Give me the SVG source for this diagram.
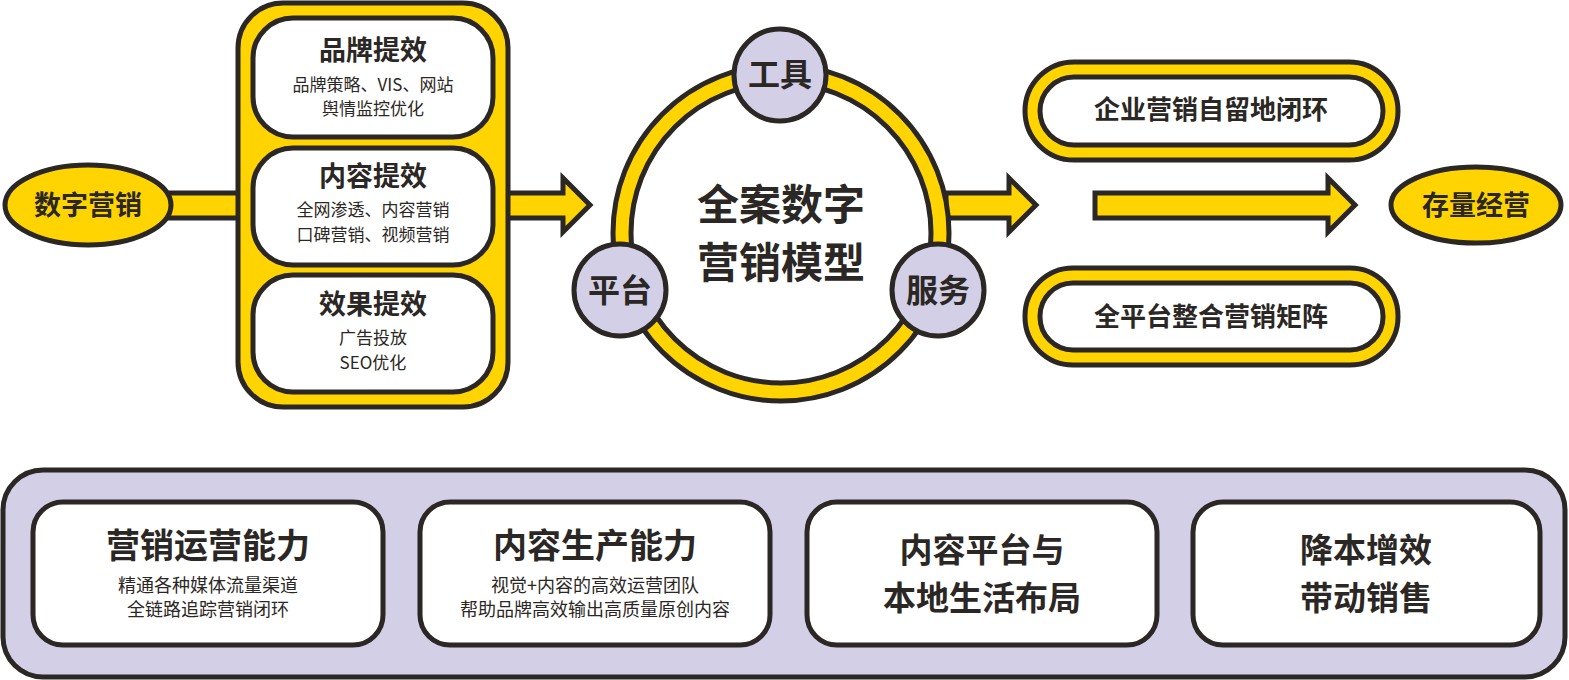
<svg xmlns="http://www.w3.org/2000/svg" width="1569" height="680" viewBox="0 0 1569 680">
<style>
.y{fill:#ffd400;stroke:#2b2724;stroke-width:5}
.w{fill:#fff;stroke:#2b2724;stroke-width:5}
.l{fill:#d3cfe7;stroke:#2b2724;stroke-width:5}
text{font-family:"Noto Sans CJK SC","Liberation Sans",sans-serif;fill:#2b2724;text-anchor:middle;font-weight:bold}
.t1{font-size:27px}
.t2{font-size:17px;font-weight:normal}
.t3{font-size:26px}
.tb{font-size:34px}
.tc{font-size:33px}
.ts{font-size:18px;font-weight:normal}
</style>
<g id="connectors">
<rect class="y" x="165" y="193" width="80" height="25"/>
<path class="y" d="M506,193 H563 V178 L590,205 L563,232 V218 H506 Z"/>
<path class="y" d="M946,193 H1009 V178 L1036,205 L1009,232 V218 H946 Z"/>
<path class="y" d="M1095,193 H1328 V178 L1355,205 L1328,232 V218 H1095 Z"/>
</g>
<g id="n-digital"><ellipse class="y" cx="88" cy="205" rx="83" ry="40"/><text class="t1" x="88" y="215">数字营销</text></g>
<g id="n-column">
<rect class="y" x="238" y="3" width="270" height="404" rx="45"/>
<g id="n-brand"><rect class="w" x="253" y="18" width="240" height="119" rx="40"/><text class="t1" x="373" y="60">品牌提效</text><text class="t2" x="373" y="91">品牌策略、VIS、网站</text><text class="t2" x="373" y="115">舆情监控优化</text></g>
<g id="n-content"><rect class="w" x="253" y="148" width="240" height="117" rx="40"/><text class="t1" x="373" y="186">内容提效</text><text class="t2" x="373" y="216">全网渗透、内容营销</text><text class="t2" x="373" y="241">口碑营销、视频营销</text></g>
<g id="n-effect"><rect class="w" x="253" y="275" width="240" height="117" rx="40"/><text class="t1" x="373" y="314">效果提效</text><text class="t2" x="373" y="344">广告投放</text><text class="t2" x="373" y="369">SEO优化</text></g>
</g>
<g id="n-model">
<circle class="y" cx="781" cy="233" r="168"/>
<circle class="w" cx="781" cy="233" r="150"/>
<text x="781" y="220" style="font-size:42px">全案数字</text>
<text x="781" y="278" style="font-size:42px">营销模型</text>
</g>
<g id="n-tool"><circle class="l" cx="780" cy="75" r="46"/><text x="780" y="86" style="font-size:32px">工具</text></g>
<g id="n-platform"><circle class="l" cx="620" cy="290" r="46"/><text x="620" y="302" style="font-size:32px">平台</text></g>
<g id="n-service"><circle class="l" cx="938" cy="290" r="46"/><text x="938" y="302" style="font-size:32px">服务</text></g>
<g id="n-closed"><rect class="y" x="1025" y="62" width="373" height="98" rx="49"/><rect class="w" x="1040" y="77" width="343" height="68" rx="34"/><text class="t3" x="1211" y="119">企业营销自留地闭环</text></g>
<g id="n-matrix"><rect class="y" x="1025" y="268" width="373" height="97" rx="48"/><rect class="w" x="1040" y="283" width="343" height="67" rx="33"/><text class="t3" x="1211" y="326">全平台整合营销矩阵</text></g>
<g id="n-stock"><ellipse class="y" cx="1476" cy="205" rx="85" ry="38"/><text class="t1" x="1476" y="215">存量经营</text></g>
<g id="n-panel">
<rect class="l" x="3" y="470" width="1562" height="207" rx="40"/>
<g id="n-op"><rect class="w" x="33" y="502" width="350" height="143" rx="30"/><text class="tb" x="208" y="558">营销运营能力</text><text class="ts" x="208" y="592">精通各种媒体流量渠道</text><text class="ts" x="208" y="616">全链路追踪营销闭环</text></g>
<g id="n-prod"><rect class="w" x="420" y="502" width="350" height="143" rx="30"/><text class="tb" x="595" y="558">内容生产能力</text><text class="ts" x="595" y="592">视觉+内容的高效运营团队</text><text class="ts" x="595" y="616">帮助品牌高效输出高质量原创内容</text></g>
<g id="n-local"><rect class="w" x="807" y="502" width="350" height="143" rx="30"/><text class="tc" x="982" y="562">内容平台与</text><text class="tc" x="982" y="610">本地生活布局</text></g>
<g id="n-cost"><rect class="w" x="1193" y="502" width="347" height="143" rx="30"/><text class="tc" x="1366" y="562">降本增效</text><text class="tc" x="1366" y="610">带动销售</text></g>
</g>
</svg>
